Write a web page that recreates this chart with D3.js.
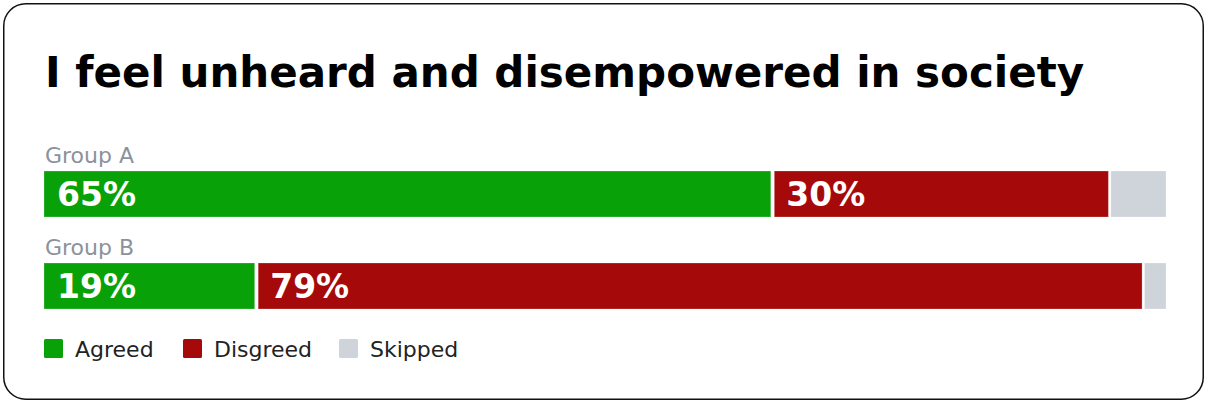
<!DOCTYPE html>
<html>
<head>
<meta charset="utf-8">
<script src="https://cdn.jsdelivr.net/npm/d3@7"></script>
<style>
  html, body { margin: 0; padding: 0; background: #fff; }
  svg { display: block; font-family: "DejaVu Sans", Verdana, sans-serif; }
</style>
</head>
<body>
<svg id="chart" width="1207" height="403"></svg>
<script>
// Survey answers, in percent of respondents
const title = "I feel unheard and disempowered in society";
const groups = ["Group A", "Group B"];
const answers = ["Agreed", "Disgreed", "Skipped"];
const agreed = [65, 19];
const disagreed = [30, 79];
const skipped = [5, 2];
const colors = ["#08a108", "#a50909", "#cfd3da"];

const svg = d3.select("#chart");
const W = 1207, H = 403;

// card frame
svg.append("rect")
  .attr("x", 3.75).attr("y", 3.75)
  .attr("width", W - 7.5).attr("height", H - 7.5)
  .attr("rx", 22).attr("ry", 22)
  .attr("fill", "#fff").attr("stroke", "#111").attr("stroke-width", 1.5);

svg.append("text")
  .attr("x", 45).attr("y", 87)
  .attr("font-size", 42).attr("font-weight", "bold")
  .attr("fill", "#000")
  .text(title);

const x = d3.scaleLinear().domain([0, 100]).range([44, 1166]);
const y = d3.scaleBand().domain(groups).range([171, 309]).paddingInner(0.5);

const rows = groups.map((g, i) => {
  const vals = [agreed[i], disagreed[i], skipped[i]];
  let acc = 0;
  return {
    group: g,
    segs: vals.map((v, j) => {
      const s = { key: answers[j], start: acc, end: acc + v, value: v, color: colors[j], last: j === vals.length - 1 };
      acc += v;
      return s;
    })
  };
});

const row = svg.selectAll("g.row").data(rows).join("g").attr("class", "row");

row.append("text")
  .attr("x", 45)
  .attr("y", d => y(d.group) - 8)
  .attr("font-size", 22)
  .attr("fill", "#8b929c")
  .text(d => d.group);

row.selectAll("rect.seg").data(d => d.segs.map(s => ({ ...s, group: d.group }))).join("rect")
  .attr("class", "seg")
  .attr("x", s => x(s.start) + (s.start > 0 ? 1 : 0))
  .attr("y", s => y(s.group))
  .attr("width", s => x(s.end) - x(s.start) - (s.last ? 1 : 2.5))
  .attr("height", y.bandwidth())
  .attr("fill", s => s.color)
  .attr("stroke", "#fff").attr("stroke-opacity", 0.25).attr("stroke-width", 1);

row.selectAll("text.val").data(d => d.segs.filter(s => s.value >= 10).map(s => ({ ...s, group: d.group }))).join("text")
  .attr("class", "val")
  .attr("x", s => x(s.start) + 13)
  .attr("y", s => y(s.group) + y.bandwidth() / 2 + 12)
  .attr("font-size", 33).attr("font-weight", "bold")
  .attr("fill", "#fff")
  .text(s => s.value + "%");

// legend
const legendX = [44, 183, 339];
const lg = svg.selectAll("g.legend").data(answers).join("g")
  .attr("class", "legend")
  .attr("transform", (d, i) => `translate(${legendX[i]},339)`);
lg.append("rect")
  .attr("width", 19).attr("height", 19).attr("rx", 1.5)
  .attr("fill", (d, i) => colors[i]);
lg.append("text")
  .attr("x", 31).attr("y", 18)
  .attr("font-size", 22)
  .attr("fill", "#222")
  .text(d => d);
</script>
</body>
</html>
